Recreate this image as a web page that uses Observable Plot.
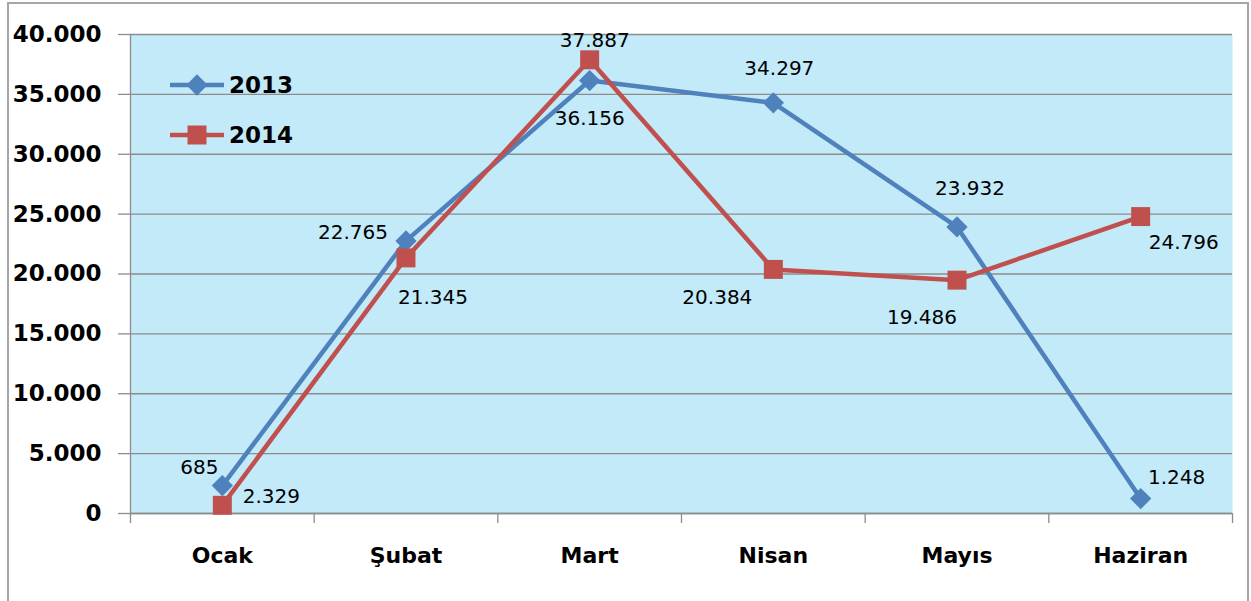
<!DOCTYPE html>
<html>
<head>
<meta charset="utf-8">
<script src="https://cdn.jsdelivr.net/npm/d3@7"></script>
<script src="https://cdn.jsdelivr.net/npm/@observablehq/plot@0.6"></script>
<style>
  html, body { margin: 0; padding: 0; background: #fff; }
  #wrap { position: relative; width: 1251px; height: 601px; overflow: hidden; }
  #border { position: absolute; left: 7px; top: 2px; width: 1242px; height: 640px; border: 2px solid #a6a6a6; box-sizing: border-box; pointer-events: none; }
  #chart { position: absolute; left: 0; top: 0; }
  #legend { position: absolute; left: 0; top: 0; }
</style>
</head>
<body>
<div id="wrap">
  <div id="chart"></div>
  <svg id="legend" width="320" height="170"></svg>
  <div id="border"></div>
</div>
<script>
// ---- data ----
const categories = ["Ocak", "Şubat", "Mart", "Nisan", "Mayıs", "Haziran"];
const series = ["2013", "2014"];
const values2013 = [2329, 22765, 36156, 34297, 23932, 1248];
const values2014 = [685, 21345, 37887, 20384, 19486, 24796];
const labels2013 = ["685", "22.765", "36.156", "34.297", "23.932", "1.248"];
const labels2014 = ["2.329", "21.345", "37.887", "20.384", "19.486", "24.796"];
const yTicks = [0, 5000, 10000, 15000, 20000, 25000, 30000, 35000, 40000];

// ---- layout (label offsets in px) ----
const off2013 = [[-23, -18], [-53, -8], [0, 38], [6, -34], [13, -38], [36, -21]];
const off2014 = [[49, -9], [27, 40], [5, -19], [-56, 28], [-35, 37], [43, 26]];

const blue = "#4f81bd", red = "#c0504d", grid = "#8c8c8c";
const fmt = d3.formatLocale({decimal: ",", thousands: ".", grouping: [3], currency: ["", ""]}).format(",");

const d2013 = categories.map((c, i) => ({x: i + 0.5, v: values2013[i], label: labels2013[i], off: off2013[i]}));
const d2014 = categories.map((c, i) => ({x: i + 0.5, v: values2014[i], label: labels2014[i], off: off2014[i]}));

const labelMarks = [...d2013, ...d2014].map(d =>
  Plot.text([d], {x: "x", y: "v", text: "label", dx: d.off[0], dy: d.off[1],
    fontSize: 20, fill: "#000", textAnchor: "middle", lineAnchor: "middle"}));

const chart = Plot.plot({
  width: 1251, height: 601,
  marginLeft: 130, marginRight: 19, marginTop: 34, marginBottom: 88,
  x: {domain: [0, 6], label: null},
  y: {domain: [0, 40000], label: null},
  style: {fontFamily: "DejaVu Sans", background: "transparent", overflow: "visible"},
  marks: [
    Plot.frame({fill: "#c2eaf9", stroke: null}),
    Plot.gridY(yTicks, {stroke: grid, strokeOpacity: 1, strokeWidth: 1.3}),
    Plot.axisY(yTicks, {tickSize: 12, tickPadding: 17, tickFormat: fmt, fontSize: 23, fontWeight: "bold",
      stroke: grid, strokeWidth: 1.3, fill: "#000"}),
    Plot.axisX(d3.range(7), {tickSize: 10, tickFormat: () => "", stroke: grid, strokeWidth: 1.3}),
    Plot.axisX(d3.range(6).map(i => i + 0.5), {tickSize: 0, tickPadding: 34,
      tickFormat: d => categories[Math.floor(d)], fontSize: 22, fontWeight: "bold", fill: "#000"}),
    Plot.ruleY([0], {stroke: grid, strokeWidth: 1.3}),
    Plot.ruleX([0], {stroke: grid, strokeWidth: 1.3}),
    Plot.line(d2013, {x: "x", y: "v", stroke: blue, strokeWidth: 4.5}),
    Plot.dot(d2013, {x: "x", y: "v", symbol: "diamond2", r: 9.6, fill: blue, stroke: null}),
    Plot.line(d2014, {x: "x", y: "v", stroke: red, strokeWidth: 4.5}),
    Plot.dot(d2014, {x: "x", y: "v", symbol: "square", r: 10.7, fill: red, stroke: null}),
    ...labelMarks
  ]
});
document.getElementById("chart").appendChild(chart);

// ---- legend ----
const lg = d3.select("#legend");
const items = [{name: series[0], color: blue, sym: d3.symbolDiamond2, size: 290, cy: 85},
               {name: series[1], color: red, sym: d3.symbolSquare, size: 360, cy: 135}];
items.forEach(it => {
  lg.append("line").attr("x1", 170).attr("x2", 224).attr("y1", it.cy).attr("y2", it.cy)
    .attr("stroke", it.color).attr("stroke-width", 4.5);
  lg.append("path").attr("d", d3.symbol(it.sym, it.size)()).attr("transform", `translate(197,${it.cy})`)
    .attr("fill", it.color);
  lg.append("text").attr("x", 229).attr("y", it.cy).attr("dy", "0.36em")
    .attr("font-family", "DejaVu Sans").attr("font-weight", "bold").attr("font-size", 23)
    .attr("fill", "#000").text(it.name);
});
</script>
</body>
</html>
